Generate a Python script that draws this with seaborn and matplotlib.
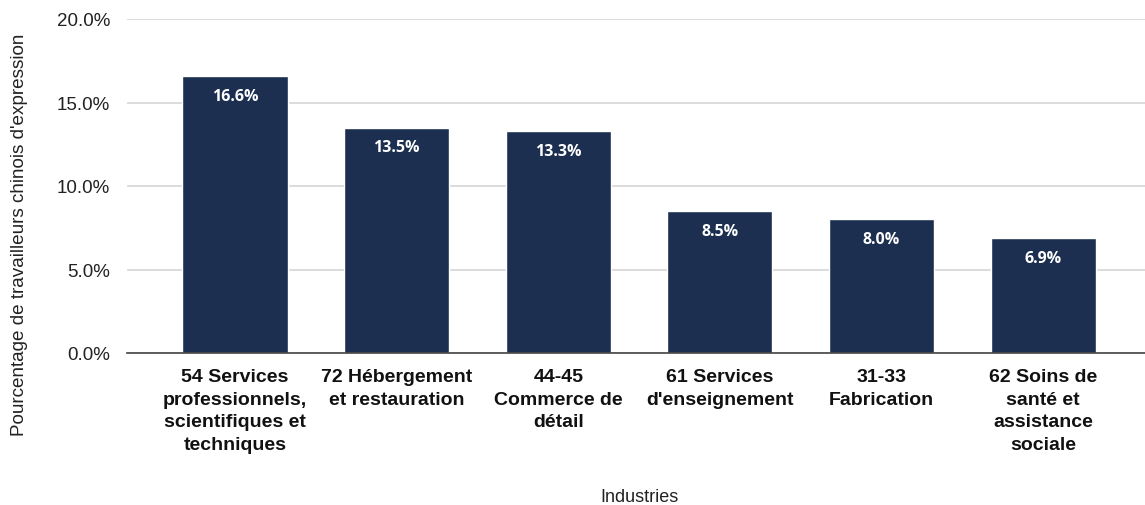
import matplotlib
matplotlib.use("Agg")
import matplotlib.pyplot as plt
import seaborn as sns
import pandas as pd
from matplotlib.ticker import FuncFormatter

industries = [
    "54 Services\nprofessionnels,\nscientifiques et\ntechniques",
    "72 Hébergement\net restauration",
    "44-45\nCommerce de\ndétail",
    "61 Services\nd'enseignement",
    "31-33\nFabrication",
    "62 Soins de\nsanté et\nassistance\nsociale",
]
shares = [16.6, 13.5, 13.3, 8.5, 8.0, 6.9]
y_ticks = [0, 5, 10, 15, 20]

bar_color = "#1c2f50"

sns.set_theme(style="white")
plt.rcParams["font.family"] = ["Liberation Sans", "DejaVu Sans"]

df = pd.DataFrame({"Industries": industries, "Part": shares})

fig = plt.figure(figsize=(11.45, 5.06), dpi=100)
ax = fig.add_axes([127 / 1145, 1 - 354 / 506, 1018 / 1145, 334 / 506])

sns.barplot(data=df, x="Industries", y="Part", color=bar_color,
            width=0.65, saturation=1, ax=ax, zorder=3)

ax.set_ylim(0, 20)
ax.set_xlim(-0.668, 5.63)
ax.set_yticks(y_ticks)
ax.yaxis.set_major_formatter(FuncFormatter(lambda v, _: f"{v:.1f}%"))
ax.grid(axis="y", color="#d6d6d6", linewidth=1.2, zorder=0)
ax.grid(axis="x", visible=False)
for side in ["top", "right", "left"]:
    ax.spines[side].set_visible(False)
ax.spines["bottom"].set_color("#444444")
ax.spines["bottom"].set_linewidth(1.2)
ax.spines["bottom"].set_zorder(4)
ax.tick_params(axis="y", length=0, pad=12, labelsize=13.5, labelcolor="#222222")
ax.tick_params(axis="x", length=0, pad=11)
for lbl in ax.get_xticklabels():
    lbl.set_fontweight("bold")
    lbl.set_fontsize(14)
    lbl.set_color("#111111")
    lbl.set_linespacing(1.42)
    lbl.set_verticalalignment("top")

for patch, val in zip(ax.patches, shares):
    cx = patch.get_x() + patch.get_width() / 2
    ax.annotate(f"{val:.1f}%", xy=(cx, val), xytext=(0, -8.5),
                textcoords="offset points", ha="center", va="top",
                color="white", fontsize=11.5, fontweight="bold",
                family="Open Sans", zorder=5)

ax.set_xlabel("")
ax.set_ylabel("")
fig.text(639 / 1145, 1 - 498 / 506, "Industries", ha="center", va="center",
         fontsize=13, color="#222222")
fig.text(20 / 1145, 1 - 235 / 506, "Pourcentage de travailleurs chinois d'expression",
         rotation=90, ha="center", va="center", fontsize=13.6, color="#222222")

fig.savefig("out.png", dpi=100)
